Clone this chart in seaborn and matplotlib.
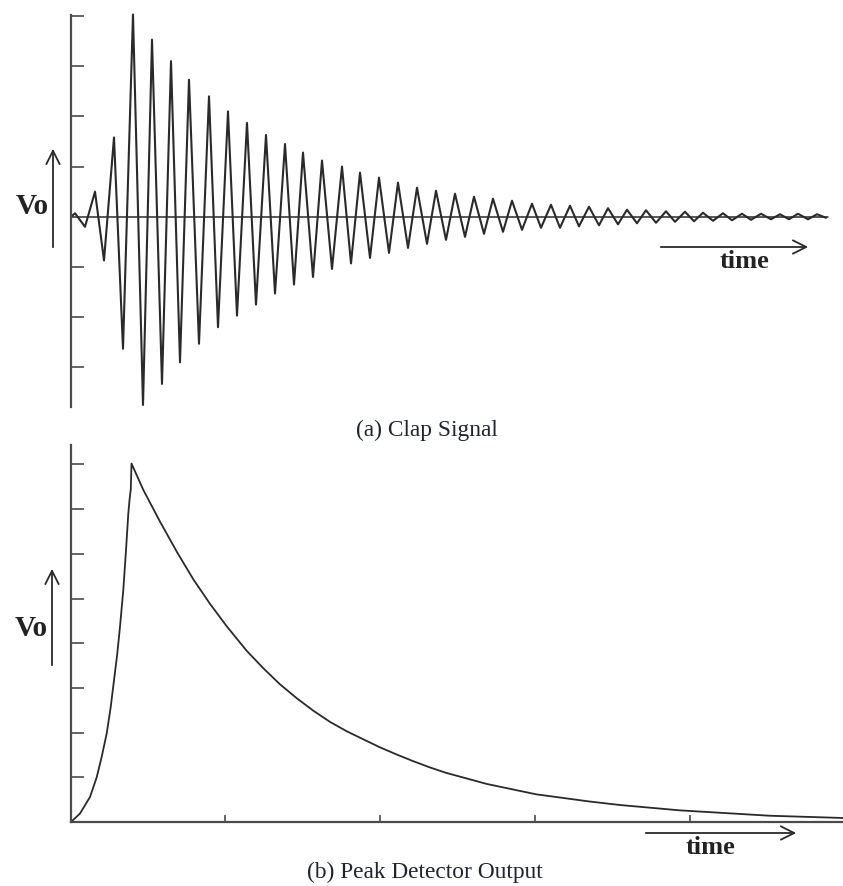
import numpy as np
import pandas as pd
import seaborn as sns
import matplotlib
matplotlib.use("Agg")
import matplotlib.pyplot as plt
from matplotlib.patches import FancyArrowPatch

# clap signal: successive peaks (time in px from the axis, amplitude in tick units)
clap_t = [0, 4, 14, 24, 33, 43, 52, 62, 72, 81, 91, 100, 109, 118, 128, 138, 147, 157, 166, 176,
          185, 195, 204, 214, 223, 232, 242, 251, 261, 271, 280, 289, 299, 308, 318, 327, 337,
          346, 356, 365, 375, 384, 394, 403, 413, 422, 432, 441, 451, 461, 470, 480, 489, 499,
          508, 518, 528, 537, 547, 556, 566, 575, 585, 595, 604, 614, 623, 632, 642, 652, 661,
          671, 680, 690, 700, 709, 718, 727, 737, 746, 755]
clap_v = [0.0, 0.07, -0.2, 0.5, -0.87, 1.58, -2.63, 4.03, -3.75, 3.53, -3.33, 3.1, -2.9, 2.73,
          -2.53, 2.4, -2.2, 2.1, -1.97, 1.87, -1.75, 1.63, -1.53, 1.45, -1.35, 1.28, -1.2, 1.12,
          -1.04, 1.0, -0.93, 0.88, -0.82, 0.78, -0.72, 0.68, -0.62, 0.58, -0.54, 0.52, -0.46,
          0.46, -0.4, 0.4, -0.34, 0.36, -0.3, 0.32, -0.26, 0.26, -0.22, 0.24, -0.22, 0.22,
          -0.19, 0.2, -0.17, 0.17, -0.15, 0.14, -0.13, 0.13, -0.12, 0.11, -0.1, 0.1, -0.09,
          0.08, -0.08, 0.07, -0.07, 0.06, -0.06, 0.06, -0.05, 0.05, -0.05, 0.06, -0.05, 0.05,
          -0.02]

# peak detector output (rise, then decay)
peak_t = [0, 9, 19, 25.7, 30.7, 35.7, 39.7, 43, 46.3, 49, 52.3, 55, 57.3, 58.5, 59.8, 60.5,
          72.3, 89, 105.7, 122.3, 139, 155.7, 175.7, 192.3, 209, 225.7, 242.3, 259, 275.7,
          292.3, 309, 325.7, 342.3, 359, 375, 416, 465, 518, 549, 609, 699, 772]
peak_v = [0, 0.19, 0.56, 1.0, 1.46, 1.98, 2.57, 3.17, 3.77, 4.37, 5.19, 6.08, 6.9, 7.2, 7.45, 8.02,
          7.43, 6.72, 6.05, 5.43, 4.88, 4.38, 3.83, 3.44, 3.08, 2.77, 2.49, 2.24, 2.03,
          1.85, 1.67, 1.51, 1.36, 1.22, 1.1, 0.85, 0.62, 0.46, 0.38, 0.26, 0.14, 0.09]

clap_yticks = [-3, -2, -1, 1, 2, 3, 4]
peak_yticks = [1, 2, 3, 4, 5, 6, 7, 8]
peak_xticks = [154, 309, 464, 619]

W, H = 843, 886
LINE = "#2a2a2a"
AXC = "#4a4a4a"

sns.set_theme(style="white")
plt.rcParams["font.family"] = ["Liberation Serif", "DejaVu Serif"]

fig = plt.figure(figsize=(W / 100, H / 100), dpi=100)
fig.patch.set_facecolor("white")


def px(x, y):
    return x / W, 1 - y / H


ax1 = fig.add_axes([71 / W, 1 - 407 / H, (W - 71) / W, 392 / H])
ax2 = fig.add_axes([71 / W, 1 - 822 / H, (W - 71) / W, 377 / H])

df_clap = pd.DataFrame({"t": clap_t, "v": clap_v})
df_peak = pd.DataFrame({"t": peak_t, "v": peak_v})

sns.lineplot(data=df_clap, x="t", y="v", ax=ax1, color=LINE, lw=1.5, estimator=None, sort=False)
sns.lineplot(data=df_peak, x="t", y="v", ax=ax2, color=LINE, lw=1.3, estimator=None, sort=False)
for ln in ax1.lines + ax2.lines:
    ln.set_clip_on(False)
    ln.set_solid_joinstyle("round")

ax1.set_xlim(0, W - 71)
ax1.set_ylim(-3.79, 4.02)
ax1.axhline(0, xmin=0, xmax=(828 - 71) / (W - 71), color=LINE, lw=1.1)

ax2.set_xlim(0, W - 71)
ax2.set_ylim(0, (822 - 445) / 44.7)

for ax in (ax1, ax2):
    ax.set_facecolor("white")
    ax.set_xlabel("")
    ax.set_ylabel("")
    for s in ax.spines.values():
        s.set_visible(False)
    ax.spines["left"].set_visible(True)
    ax.spines["left"].set_color(AXC)
    ax.spines["left"].set_linewidth(1.6)

ax2.spines["bottom"].set_visible(True)
ax2.spines["bottom"].set_color(AXC)
ax2.spines["bottom"].set_linewidth(1.6)

ax1.set_yticks(clap_yticks)
ax1.set_xticks([])
ax1.tick_params(axis="y", direction="in", length=9, width=1.2, color=AXC, left=True, labelleft=False)

ax2.set_yticks(peak_yticks)
ax2.set_xticks(peak_xticks)
ax2.tick_params(axis="y", direction="in", length=9, width=1.2, color=AXC, left=True, labelleft=False)
ax2.tick_params(axis="x", direction="in", length=5, width=1.2, color=AXC, bottom=True, labelbottom=False)

# arrows and labels drawn over the figure
arrow = dict(arrowstyle="->", lw=1.3, color=LINE, mutation_scale=24)
fig.add_artist(FancyArrowPatch(px(53, 250), px(53, 146), transform=fig.transFigure, **arrow))
fig.add_artist(FancyArrowPatch(px(52, 668), px(52, 566), transform=fig.transFigure, **arrow))
fig.add_artist(FancyArrowPatch(px(658, 247), px(811, 247), transform=fig.transFigure, **arrow))
fig.add_artist(FancyArrowPatch(px(643, 833), px(799, 833), transform=fig.transFigure, **arrow))

vo = dict(fontsize=21, fontweight="bold", ha="center", va="center", color="#222222")
fig.text(*px(32, 206), "Vo", **vo)
fig.text(*px(31, 629), "Vo", **vo)

tm = dict(fontsize=19, fontweight="bold", ha="center", va="center", color="#222222")
fig.text(*px(745, 261), "time", **tm)
fig.text(*px(710, 848), "time", **tm)

cap = dict(fontsize=16.8, ha="center", va="center", color="#1f2430")
fig.text(*px(427, 430), "(a) Clap Signal", **cap)
fig.text(*px(425, 872), "(b) Peak Detector Output", **cap)

fig.savefig("out.png", dpi=100, facecolor="white")
